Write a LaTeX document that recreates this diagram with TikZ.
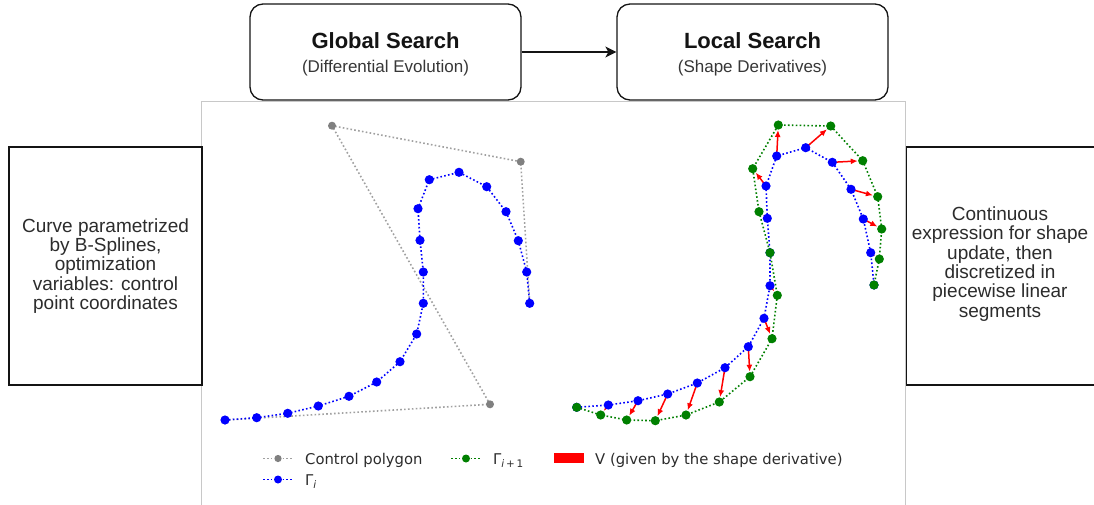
\documentclass[tikz,border=0pt]{standalone}
\usepackage{fontspec}
\setmainfont{Liberation Sans}
\newfontfamily\djv{DejaVu Sans}
\usetikzlibrary{arrows.meta}
\definecolor{mblue}{HTML}{0000FF}
\definecolor{mgreen}{HTML}{008000}
\definecolor{mgray}{HTML}{808080}
\definecolor{mred}{HTML}{FF0000}
\definecolor{framec}{HTML}{C8C8C8}
\definecolor{ink}{HTML}{141414}
\tikzset{
  rbox/.style={draw=ink, line width=1.3pt, rounded corners=13pt, minimum width=271pt, minimum height=96pt, inner sep=0pt},
  sqbox/.style={draw=ink, line width=1.3pt, inner sep=0pt, minimum height=238pt},
  ttl/.style={anchor=base, font=\bfseries\fontsize{22}{26}\selectfont, text=ink, inner sep=0pt},
  sub/.style={anchor=base, font=\fontsize{17}{20}\selectfont, text=ink!85, inner sep=0pt},
  desc/.style={align=center, font=\fontsize{19}{19.3}\selectfont, text=ink!90, inner sep=0pt},
  dotline/.style={line width=1.6pt, dash pattern=on 1.6pt off 2.3pt},
  grayline/.style={dotline, draw=mgray!75},
  blueline/.style={dotline, draw=mblue},
  greenline/.style={dotline, draw=mgreen},
  vec/.style={draw=mred, line width=1.5pt, -{Latex[length=7pt,width=6pt]}, shorten >=5pt},
  leg/.style={anchor=base west, inner sep=0pt, text=ink!90, font=\djv\fontsize{14.8}{17}\selectfont},
  flow/.style={draw=ink, line width=1.3pt, -{Stealth[length=11pt,width=11pt,inset=3pt]}}
}
\begin{document}
\begin{tikzpicture}[x=1pt,y=-1pt]
\useasboundingbox (0,0) rectangle (1094,504);
\fill[white] (0,0) rectangle (1094,504);
% plot frame
\draw[framec, line width=1pt] (201,520) -- (201,101.5) -- (905.5,101.5) -- (905.5,520);
% top boxes
\node[rbox] (gs) at (385.5,52) {};
\node[ttl] (gst) at (385.5,48) {Global Search};
\node[sub] (gss) at (385.5,72) {(Differential Evolution)};
\node[rbox] (ls) at (752.5,52) {};
\node[ttl] (lst) at (752.5,48) {Local Search};
\node[sub] (lss) at (752.5,72) {(Shape Derivatives)};
\draw[flow] (gs.east) -- (ls.west);
% side boxes
\node[sqbox, minimum width=193pt] (lb) at (105.5,266) {};
\node[desc] (lt) at (105.5,266) {Curve parametrized\\by B-Splines,\\optimization\\variables: control\\point coordinates};
\node[sqbox, minimum width=200pt, anchor=west] (rb) at (906,266) {};
\node[desc] (rt) at (1000,264) {Continuous\\expression for shape\\update, then\\discretized in\\piecewise linear\\segments};
% ---------- left plot ----------
\foreach \x/\y [count=\i] in {225/420,490/404.3,332/125.7,520.7/161.7,529.7/303.3}
  {\coordinate (c\i) at (\x,\y);}
\foreach \x/\y [count=\i] in {225/420,256.7/417.7,287.7/413.3,318.3/406,349/396.3,376.7/382,400/361.7,416.7/334,423.3/303.3,423.3/272,420/240.3,418/208.7,429.3/179.7,459/172.3,486.7/186.7,506/211.7,518.3/240.7,526.7/272,529.7/303.3}
  {\coordinate (a\i) at (\x,\y);}
\draw[grayline] (c1) -- (c2) -- (c3) -- (c4) -- (c5);
\foreach \i in {1,...,5} \fill[mgray] (c\i) circle (4pt);
\draw[blueline] (a1) \foreach \i in {2,...,19} {-- (a\i)};
\foreach \i in {1,...,19} \fill[mblue] (a\i) circle (4.6pt);
% ---------- right plot ----------
\foreach \x/\y [count=\i] in {576.7/407.3,608.3/405,638/400.7,667.7/394,697.3/383,725/367.7,748.3/346.7,764/318.3,770/285.7,770/252.7,767.3/218.3,766/186,776.7/156,805.7/147.7,832.3/162.3,851/189.3,863.3/219,870.7/252.7,874/285}
  {\coordinate (b\i) at (\x,\y);}
\foreach \x/\y [count=\i] in {576.7/407.3,600.7/415,626.7/420,655.3/420.7,686/415,719.3/402,750/376.7,772/338.7,777.3/295.3,770/252.7,759/211.7,752.7/168.7,778.3/125,830.7/126,862.7/160.7,877.7/196.7,881.7/229,879.3/259,874/285}
  {\coordinate (g\i) at (\x,\y);}
\draw[blueline] (b1) \foreach \i in {2,...,19} {-- (b\i)};
\draw[greenline] (g1) \foreach \i in {2,...,19} {-- (g\i)};
\foreach \i in {2,...,9,11,12,...,18} \draw[vec] (b\i) -- (g\i);
\foreach \i in {1,...,19} \fill[mblue] (b\i) circle (4.6pt);
\foreach \i in {1,...,19} \fill[mgreen] (g\i) circle (4.6pt);
% ---------- legend ----------
\coordinate (l1a) at (263,458.5); \coordinate (l1b) at (292,458.5);
\draw[grayline] (l1a) -- (l1b);
\fill[mgray] (278,458.5) circle (3.6pt);
\node[leg] (lcp) at (305,464) {Control polygon};
\coordinate (l2a) at (451,458.5); \coordinate (l2b) at (480,458.5);
\draw[greenline] (l2a) -- (l2b);
\fill[mgreen] (466,458.5) circle (4pt);
\node[leg] (lgn) at (493,464) {Γ\raisebox{-3.2pt}{\fontsize{10.4}{12}\selectfont\itshape i\upshape\,+\,1}};
\fill[mred] (554,452.5) rectangle (584,463);
\node[leg] (lv) at (595,464) {V (given by the shape derivative)};
\coordinate (l3a) at (263,479.5); \coordinate (l3b) at (292,479.5);
\draw[blueline] (l3a) -- (l3b);
\fill[mblue] (278,479.5) circle (4pt);
\node[leg] (lgi) at (305,485) {Γ\raisebox{-3.2pt}{\fontsize{10.4}{12}\selectfont\itshape i}};
\end{tikzpicture}
\end{document}
